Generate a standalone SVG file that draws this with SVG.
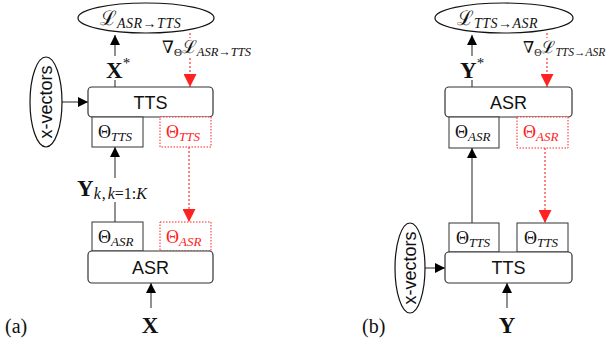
<svg xmlns="http://www.w3.org/2000/svg" width="609" height="344" viewBox="0 0 609 344">
<style>
.box{fill:#fff;stroke:#333;stroke-width:1.2}
.pbox{fill:#fff;stroke:#333;stroke-width:1}
.rbox{fill:#fff;stroke:#f22;stroke-width:1;stroke-dasharray:1.5 1.5}
.ell{fill:#fff;stroke:#111;stroke-width:1.2}
.ln{stroke:#555;stroke-width:1.3;fill:none}
.rl{stroke:#f33;stroke-width:1.2;stroke-dasharray:2 2;fill:none}
.sans{font-family:"Liberation Sans",Arial,sans-serif;font-size:18px;fill:#111}
.math{font-family:"Liberation Serif","DejaVu Serif",serif;fill:#111}
.red{fill:#f22}
.bold{font-weight:bold}
.it{font-style:italic}
</style>
<defs>
<marker id="ah" viewBox="0 0 10 10" refX="10" refY="5" markerWidth="13" markerHeight="10" markerUnits="userSpaceOnUse" orient="auto"><path d="M0,0 L10,5 L0,10 z" fill="#000"/></marker>
<marker id="rh" viewBox="0 0 10 10" refX="10" refY="5" markerWidth="15" markerHeight="13" markerUnits="userSpaceOnUse" orient="auto"><path d="M0,0 L10,5 L0,10 z" fill="#f22"/></marker>
</defs>

<g id="connectors">
<!-- left panel -->
<line class="ln" x1="115" y1="87" x2="115" y2="80"/>
<line class="ln" x1="115" y1="56" x2="115" y2="35" marker-end="url(#ah)"/>
<line class="rl" x1="190" y1="33" x2="190" y2="38"/>
<line class="rl" x1="190" y1="58" x2="190" y2="87" marker-end="url(#rh)"/>
<line class="ln" x1="62" y1="102" x2="88" y2="102" marker-end="url(#ah)"/>
<line class="ln" x1="115" y1="222" x2="115" y2="202"/>
<line class="ln" x1="115" y1="178" x2="115" y2="147" marker-end="url(#ah)"/>
<line class="rl" x1="189" y1="147" x2="189" y2="222" marker-end="url(#rh)"/>
<line class="ln" x1="151" y1="308" x2="151" y2="283" marker-end="url(#ah)"/>
<!-- right panel -->
<line class="ln" x1="472" y1="87" x2="472" y2="80"/>
<line class="ln" x1="472" y1="56" x2="472" y2="35" marker-end="url(#ah)"/>
<line class="rl" x1="547" y1="33" x2="547" y2="38"/>
<line class="rl" x1="547" y1="58" x2="547" y2="87" marker-end="url(#rh)"/>
<line class="ln" x1="472" y1="223" x2="472" y2="148" marker-end="url(#ah)"/>
<line class="rl" x1="545" y1="148" x2="545" y2="223" marker-end="url(#rh)"/>
<line class="ln" x1="425" y1="268" x2="445" y2="268" marker-end="url(#ah)"/>
<line class="ln" x1="507" y1="308" x2="507" y2="283" marker-end="url(#ah)"/>
</g>

<!-- Left panel -->
<g id="lossA">
<ellipse class="ell" cx="146" cy="18" rx="68" ry="15"/>
<text class="math" x="100" y="25" font-size="20">ℒ<tspan class="it" font-size="14" dy="3" letter-spacing="0.5">ASR→TTS</tspan></text>
</g>
<g id="xstar">
<text class="math" x="106" y="78" font-size="23"><tspan class="bold">X</tspan><tspan font-size="15" dy="-10">*</tspan></text>
</g>
<g id="gradA">
<text class="math" x="162" y="53" font-size="17">∇<tspan font-size="11" dy="3">Θ</tspan><tspan font-size="18" dy="-3">ℒ</tspan><tspan class="it" font-size="12.5" dy="3">ASR→TTS</tspan></text>
</g>
<g id="xvecA">
<ellipse class="ell" cx="46" cy="102" rx="16" ry="45"/>
<text class="sans" font-size="17" transform="translate(52,102) rotate(-90)" text-anchor="middle">x-vectors</text>
</g>
<g id="ttsA">
<rect class="box" x="88" y="87" width="125" height="30" rx="4"/>
<text class="sans" x="150.5" y="108.5" text-anchor="middle">TTS</text>
</g>
<g id="thetaTTSA">
<rect class="pbox" x="92" y="117" width="51" height="30"/>
<text class="math" x="98" y="138" font-size="18">Θ<tspan class="it" font-size="13" dy="3">TTS</tspan></text>
</g>
<g id="thetaTTSAred">
<rect class="rbox" x="160" y="117" width="51" height="30"/>
<text class="math red" x="166" y="138" font-size="18">Θ<tspan class="it" font-size="13" dy="3">TTS</tspan></text>
</g>
<g id="ylabel">
<text class="math" x="77" y="196" font-size="23"><tspan class="bold">Y</tspan><tspan class="it" font-size="16" dy="3">k</tspan><tspan font-size="16" dx="1">,</tspan><tspan class="it" font-size="16" dx="2">k</tspan><tspan font-size="16">=1:</tspan><tspan class="it" font-size="16">K</tspan></text>
</g>
<g id="thetaASRA">
<rect class="pbox" x="92" y="222" width="51" height="29"/>
<text class="math" x="98" y="243" font-size="18">Θ<tspan class="it" font-size="13" dy="3">ASR</tspan></text>
</g>
<g id="thetaASRAred">
<rect class="rbox" x="160" y="222" width="51" height="29"/>
<text class="math red" x="166" y="243" font-size="18">Θ<tspan class="it" font-size="13" dy="3">ASR</tspan></text>
</g>
<g id="asrA">
<rect class="box" x="88" y="251" width="125" height="32" rx="4"/>
<text class="sans" x="150.5" y="274" text-anchor="middle">ASR</text>
</g>
<g id="xin">
<text class="math bold" x="150" y="333" font-size="23" text-anchor="middle">X</text>
</g>
<text class="math" x="5" y="333" font-size="20">(a)</text>

<!-- Right panel -->
<g id="lossB">
<ellipse class="ell" cx="504" cy="18" rx="69" ry="15"/>
<text class="math" x="457" y="25" font-size="20">ℒ<tspan class="it" font-size="14" dy="3" letter-spacing="0.5">TTS→ASR</tspan></text>
</g>
<g id="ystar">
<text class="math" x="460" y="78" font-size="23"><tspan class="bold">Y</tspan><tspan font-size="15" dy="-10">*</tspan></text>
</g>
<g id="gradB">
<text class="math" x="523" y="53" font-size="16">∇<tspan font-size="10" dy="3">Θ</tspan><tspan font-size="17" dy="-3">ℒ</tspan><tspan class="it" font-size="11.5" dy="3">TTS→ASR</tspan></text>
</g>
<g id="asrB">
<rect class="box" x="445" y="87" width="127" height="30" rx="4"/>
<text class="sans" x="508.5" y="108.5" text-anchor="middle">ASR</text>
</g>
<g id="thetaASRB">
<rect class="pbox" x="449" y="117" width="50" height="31"/>
<text class="math" x="455" y="138" font-size="18">Θ<tspan class="it" font-size="13" dy="3">ASR</tspan></text>
</g>
<g id="thetaASRBred">
<rect class="rbox" x="517" y="117" width="51" height="31"/>
<text class="math red" x="523" y="138" font-size="18">Θ<tspan class="it" font-size="13" dy="3">ASR</tspan></text>
</g>
<g id="thetaTTSB">
<rect class="pbox" x="449" y="223" width="50" height="29"/>
<text class="math" x="456" y="244" font-size="18">Θ<tspan class="it" font-size="13" dy="3">TTS</tspan></text>
</g>
<g id="thetaTTSB2">
<rect class="pbox" x="517" y="223" width="51" height="29"/>
<text class="math" x="524" y="244" font-size="18">Θ<tspan class="it" font-size="13" dy="3">TTS</tspan></text>
</g>
<g id="xvecB">
<ellipse class="ell" cx="410" cy="268" rx="15" ry="45"/>
<text class="sans" font-size="17" transform="translate(416,268) rotate(-90)" text-anchor="middle">x-vectors</text>
</g>
<g id="ttsB">
<rect class="box" x="445" y="252" width="127" height="31" rx="4"/>
<text class="sans" x="508.5" y="274" text-anchor="middle">TTS</text>
</g>
<g id="yin">
<text class="math bold" x="507" y="333" font-size="23" text-anchor="middle">Y</text>
</g>
<text class="math" x="362" y="333" font-size="20">(b)</text>
</svg>
